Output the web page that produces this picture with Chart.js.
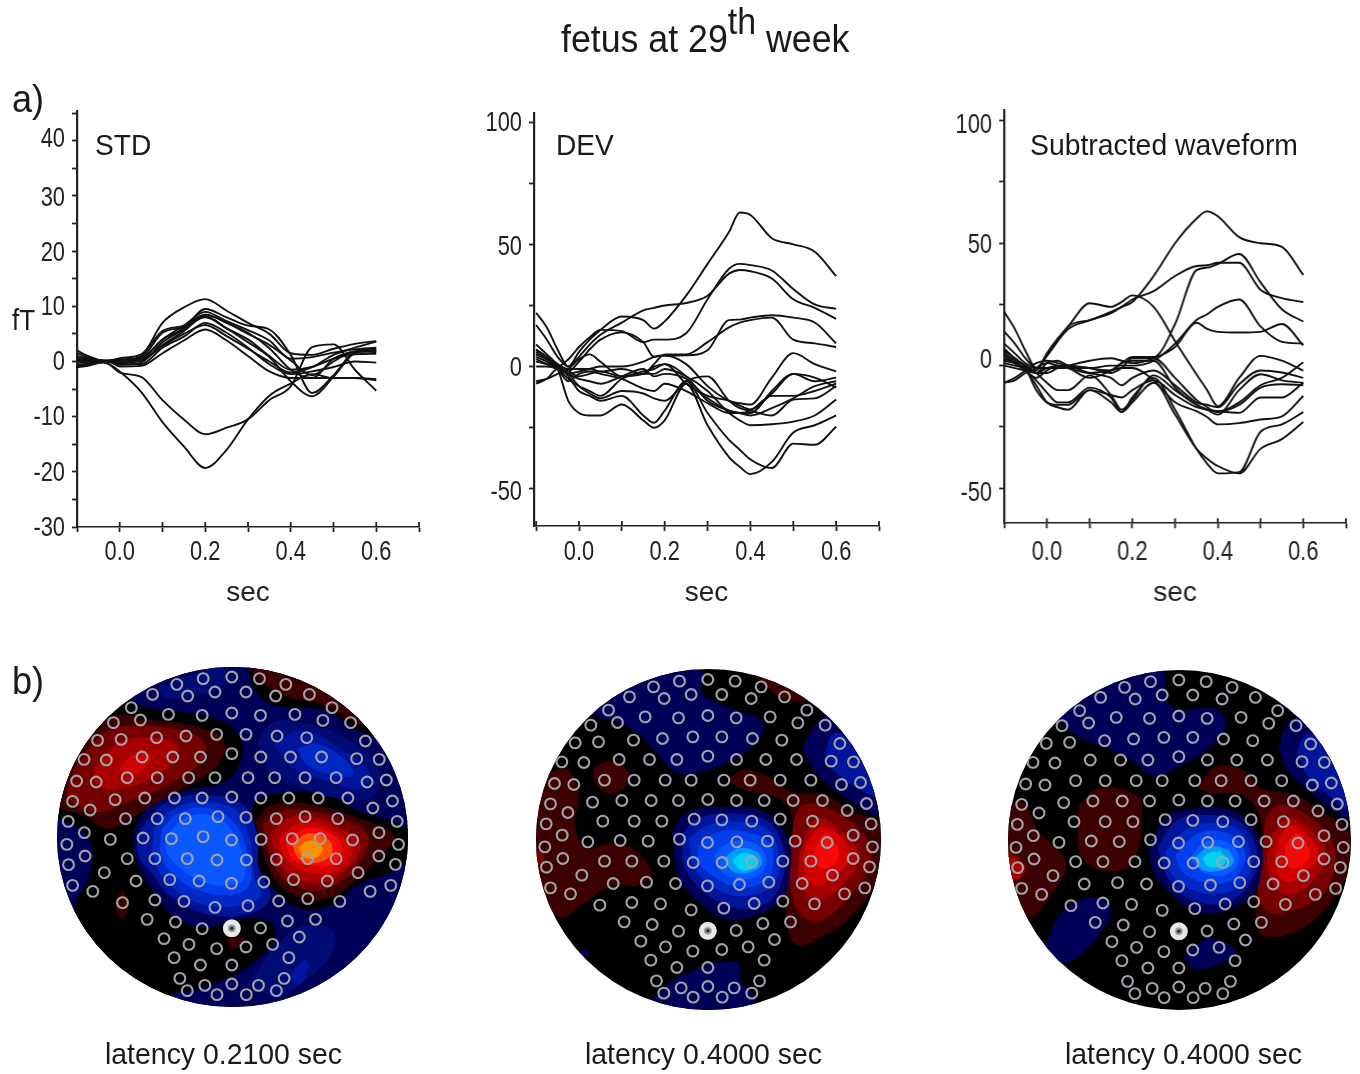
<!DOCTYPE html>
<html><head><meta charset="utf-8">
<script src="https://cdn.jsdelivr.net/npm/chart.js@4/dist/chart.umd.min.js"></script>
<style>
html,body{margin:0;padding:0;background:#fff;width:1360px;height:1074px;overflow:hidden}
canvas{position:absolute;filter:blur(.45px)}
.t{position:absolute;font-family:"Liberation Sans",Arial,sans-serif;color:#1a1a1a;white-space:nowrap;line-height:1;filter:blur(.3px);transform-origin:0 0}
sup{font-size:.95em;line-height:0;vertical-align:.5em}
</style></head><body>
<script>
// ---------- waveform data ----------
const stdTimes=[-0.1,-0.075,-0.05,-0.025,0,0.05,0.1,0.15,0.2,0.25,0.3,0.35,0.4,0.45,0.5,0.55,0.6];
const stdSeries=[
[0,-0.3,0.3,0.2,0.2,1,7,9.8,11.3,9.2,7,5,1.5,1.2,2.3,3.2,3.7],
[0.5,0.3,0,-0.5,-1.8,-5.5,-11,-15.4,-19.3,-16,-10.5,-6.2,-4,-2.3,-3,-3,-3.4],
[2,1,0.3,-0.5,-2,-2.8,-7,-10.5,-13.2,-12,-10.5,-7,-4.5,2.6,3.1,-1.5,-5.3],
[-1,-0.8,-0.3,0,0.1,0.4,4,6,9.5,8,6.5,5.8,1.2,-5.7,-2.5,1.8,2.3],
[-0.5,-0.5,-0.2,-0.1,-0.9,-0.8,1.5,3.8,5.8,3.8,1,-1.8,-3,-3,-3,-3,-3.2],
[1,0.5,0.2,0,-0.2,0.2,3,5.5,8.2,6,3.5,0.8,-3.6,-6.3,-2.8,1.5,2],
[1.5,0.8,0.2,0.1,0.6,1.3,5.5,6.5,8.5,7,5,3,0.2,-2.5,0,1.8,1.7],
[-0.8,-0.5,0,0.2,0.4,0.8,5.2,6.2,8,6,4,1,-1.5,-1,0.5,1.3,1.4],
[0.5,0.2,0,0,-0.4,-0.5,2.5,4.5,7,5.2,2.5,-0.5,-2.3,-1.8,-1,0,-0.2],
[-0.9,-0.7,-0.1,0.1,0.3,0.6,4,6.5,9,7.3,5.7,3.8,0.5,0.8,1.6,2.2,2.5],
[0.2,0,-0.1,0,-0.6,-0.2,3.5,5.8,8.5,7,5.2,2.4,-1.5,-3,0.5,1.8,2],
[1,0.4,0,-0.1,-0.2,0.1,2.8,5,6.6,4.6,2.3,0,-2,-1,1.2,2.5,3.6]
];
const lateTimes=[-0.1,-0.075,-0.05,-0.025,0,0.025,0.05,0.1,0.15,0.175,0.2,0.25,0.3,0.35,0.375,0.4,0.45,0.5,0.55,0.6];
const devSeries=[
[22,16,7,0,6,11,15,20.5,19,15.5,18.5,29,42,55,63,62,52.5,50,47,37],
[17,11,4,0,4,9,13,18,23,24,25,26,29,38,39.5,39,36,27.5,24,19.5],
[7,3,0,3,8,12,15,14.5,10,11,11,13.6,27.5,40,42,41.5,39.3,31.7,25.4,23.6],
[5,3,0,-2,2,7,11,14,10,4,4.5,4.6,6.7,19,19.2,20,21,20,18,9.5],
[9,5,1,-1,-1,-1,-2,-1,-3,1,5,5,10,16,18,19,20,11,9.5,8],
[0,0,-1,-3,-2,-1,0,0,2,4,4.5,1,-8,-14,-15,-15.5,-4.5,5.5,1,-2],
[7,4,0,-3,-5,-6,-7,-4,-1,-4,-3,-5,-13,-18,-19,-19,-10,-3,-4.5,-8.5],
[-6,-5,-3,-1,3,5,2,-4,-3,0,1,-7,-12,-14,-16,-17.5,-11,-3,-6,-4.5],
[2,1,0,-3,-8,-11,-13,-10,-11,-13,-14,-6,-4,-14,-17,-18,-20,-13.5,-13,-8],
[-7,-5,-1,-2,-4,-3,-2,-4,-3,-3,-1,-4,-10,-19,-22,-24,-23.6,-22.5,-20,-13.5],
[3,1,-1,-5,-8,-10,-12,-5,-2,-1,1,-4,-14,-18,-19,-20,-17,-13,-8,-6],
[5,3,1,-4,-10,-12,-14,-12,-20,-23,-18,-6,-19,-30,-34,-38,-41.5,-31.5,-32,-24.6],
[6,3,-1,-14,-19,-20,-20,-15.5,-22,-25,-22,-7,-24,-37,-41,-44,-39,-27,-24,-20],
[4,2,-1,-6,-3,-2,-3,-5,-9,-10,-7,-10,-15,-19,-19,-18,-12,-12,-10,-7]
];
const subSeries=[
[22,15,6,-1,4,10,15,18.5,22,24,26,36.6,50,60,63,61,52.5,50,48.5,37],
[14,9,3,-1,4,10,16,18.6,21.4,24,27,30.4,36.6,40.7,41,42,42,31,27.6,26],
[7,3,0,-2,5,11,16,25.5,24,26,28.7,24,10,-3.5,-10,-16.6,-5,4,2,-2],
[5,2,0,-3,-1,0,0,-1,-2,1,3.5,3.5,17,39,40,41.5,45.6,34,23,18],
[9,5,1,-1,-1,-1,-1,-1,0,0,0,2,9,18.6,21,24,27,16,9.7,9],
[0,-1,-2,-3,-3,-1,0,2,3,2,1,3,7.6,17.5,15,13.8,13.5,13.8,17,8.3],
[2,1,-1,-3,1,2,0,-1,-3,-1,3,3,-5,-14,-17,-19,-15,-8,-5,1.4],
[6,3,-1,-10,-15,-16,-16,-10,-15,-19,-13,-5,-18,-34,-40,-44,-43.5,-27,-24,-19],
[3,1,-2,-6,-11,-15,-15,-9,-13,-19,-15,-7,-20,-34,-38,-41,-44,-34,-30,-23],
[-7,-6,-3,-1,1,0,-1,-3,-2,-1,-1,-6,-15,-18.6,-21,-24,-23.5,-22,-20.7,-12.4],
[4,1,-2,-8,-15,-17,-18,-10,-12,-13,-10,-6,-12,-17,-18,-18.6,-19.3,-13,-13,-7],
[-7,-5,-2,1,2,1,0,-3,-5,-8,-5,-2,-8,-15,-16,-17,-7.6,-2,-2.8,-5],
[1,0,-1,-3,-7,-10,-10,-4,-12,-18,-14,-4,-10,-16,-18,-20,-10,-3.5,-6,-7],
[5,2,-2,-5,-2,0,-1,-5,-2,1,2,2,-9,-16,-18,-18.6,-16,-9,-7.6,-8]
];
const xTickVals=[-0.1,0,0.1,0.2,0.3,0.4,0.5,0.6,0.7];
const xTickLabels=["","0.0","","0.2","","0.4","","0.6",""];
const stdYTicks=[-30,-25,-20,-15,-10,-5,0,5,10,15,20,25,30,35,40,45];
const stdYLabels=[-30,-20,-10,0,10,20,30,40];
const devYTicks=[-50,-25,0,25,50,75,100];
const devYLabels=[-50,0,50,100];

// ---------- sensor layout (shared by the three maps) ----------
const sensorX=[463,548,630,708,385,313,417,498,590,678,778,250,277,360,460,548,633,735,845,818,900,197,150,220,325,412,503,590,682,770,944,110,176,282,373,455,548,634,722,814,918,985,88,146,238,327,420,498,596,675,765,857,949,1006,76,128,202,290,378,460,548,634,717,804,892,966,1024,63,111,233,327,410,507,590,680,765,862,984,1038,59,188,285,369,463,547,635,727,810,906,1042,113,238,320,416,504,591,680,773,857,984,1033,64,170,264,364,451,547,643,731,831,922,1019,76,136,958,224,320,406,498,596,687,773,868,297,381,460,633,713,796,347,421,503,590,669,748,377,455,548,717,394,468,548,627,703,416,504,591,680];
const sensorY=[78,73,78,95,95,125,130,118,118,130,125,165,202,185,188,181,188,185,165,203,210,210,263,260,255,250,245,245,250,255,265,320,322,313,313,313,303,313,313,313,318,320,385,388,375,375,375,375,375,375,375,375,388,382,446,472,441,436,436,436,433,436,436,436,436,466,445,506,540,498,498,498,492,494,498,492,498,540,506,575,560,556,558,552,562,560,558,558,562,575,610,618,618,618,622,622,620,618,618,610,635,636,660,685,681,685,692,688,681,685,660,698,698,716,716,750,742,746,764,759,745,738,746,800,808,828,826,805,800,858,875,888,883,875,853,915,937,937,915,977,998,994,998,977,1014,1026,1026,1014];
const refSensorX=[548], refSensorY=[827];

// ---------- field contours: [level, x,y, x,y, ...] ----------
const mapAField=[
[-1,-100,-100,1300,-100,1300,1200,-100,1200],
[0,250,110,300,150,420,170,540,195,600,250,600,320,550,380,420,410,320,460,280,540,290,620,340,710,410,790,500,815,600,790,690,800,700,860,640,920,560,970,400,1015,300,1015,150,900,100,770,150,650,150,560,100,510,30,470,30,300,100,200],
[0,640,440,700,415,850,415,960,470,1100,520,1110,600,1050,650,950,690,870,750,780,760,700,700,650,620,630,520],
[0,620,30,640,100,700,150,850,165,960,230,1020,240,900,100,750,30],
[1,60,400,200,190,330,195,470,215,545,250,545,310,480,370,350,440,270,490,200,520,130,480,50,450],
[2,100,340,210,225,400,220,490,260,480,320,380,390,260,440,170,470,85,425],
[3,160,340,250,255,400,260,410,300,340,365,230,400,170,385],
[4,235,340,280,300,330,300,320,330,270,360],
[1,640,35,700,50,850,110,970,210,940,200,850,150,720,115,640,60],
[1,245,700,265,745,245,790,225,745],
[1,555,850,610,850,575,880],
[-2,300,520,380,440,500,420,610,450,650,540,655,640,690,720,640,770,520,780,400,730,330,650,290,590],
[-3,340,520,400,460,500,440,590,470,630,560,640,660,660,720,600,750,500,750,400,700,340,610],
[-4,365,520,420,470,510,460,580,500,620,590,630,680,590,715,490,710,400,660,360,590],
[-5,380,540,430,490,510,480,570,520,610,610,610,670,570,690,490,680,410,630,375,580],
[-1.5,650,260,700,200,800,205,920,250,1010,330,1000,420,900,430,780,395,680,340],
[-2,700,270,780,225,900,280,985,350,960,400,870,380,760,340],
[-3,770,280,830,265,920,320,935,360,880,360,800,330],
[-1.5,350,100,480,50,550,40,545,90,470,120,380,130],
[-1.5,620,990,700,880,780,815,870,820,880,880,800,970,700,1020],
[-2,740,970,790,915,805,930,780,985],
[1,645,500,690,450,800,445,960,490,1060,545,1010,610,950,670,860,730,760,720,690,650],
[2,665,510,710,470,800,465,950,510,985,560,940,640,860,700,770,695,705,640],
[3,690,540,740,490,820,485,920,530,960,570,920,640,850,680,770,670,715,620],
[4,715,550,770,505,840,510,920,560,930,600,880,650,800,650,735,610],
[5,735,565,790,520,860,530,905,575,880,625,810,630,755,610],
[6,755,570,800,535,860,550,875,590,840,620,780,615],
[7,775,575,810,555,845,575,830,605,790,605]
];
const mapBField=[
[-1,190,160,300,90,430,50,530,50,530,110,590,150,700,190,715,230,660,290,560,340,460,355,400,300,350,245,280,200,230,190],
[1,680,55,780,90,840,135,770,130,720,90],
[-1,830,280,880,200,930,180,1000,290,1065,420,1060,480,980,440,880,360],
[-2,900,300,920,240,960,240,1020,330,1050,420,1000,400,930,350],
[-1,380,1030,470,960,630,920,650,980,690,1040,600,1075,450,1065],
[-1,160,890,190,885,185,905],
[1,70,350,130,345,160,420,150,520,190,580,250,565,320,580,380,650,340,690,260,690,170,750,100,785,50,690,25,560,30,450],
[1,205,340,250,318,310,350,300,395,250,415,210,380],
[2,30,580,55,600,50,630,30,620],
[1,610,375,650,345,720,360,800,410,900,420,980,470,1070,510,1070,640,1000,760,900,840,820,870,790,830,780,740,800,600,800,480,760,430,650,400],
[2,805,500,830,450,900,455,1000,520,1040,600,1000,690,900,790,840,790,800,720,795,600],
[3,840,540,880,490,950,530,1000,600,960,680,890,730,830,700,820,620],
[4,845,560,890,515,945,545,975,600,930,660,870,690,835,630],
[5,870,580,900,535,935,570,940,610,900,640,870,620],
[-1,440,530,490,470,600,455,720,470,790,560,795,650,770,730,680,785,600,790,520,740,460,660],
[-2,470,540,520,490,620,475,730,500,775,580,775,660,730,740,640,760,550,720,480,640],
[-3,490,550,550,510,640,500,730,525,760,600,750,680,680,720,590,710,510,640],
[-4,520,570,580,530,660,530,730,560,745,620,720,680,640,695,560,660,520,620],
[-5,565,600,620,560,690,565,725,610,700,660,630,670,580,640],
[-6,595,610,640,580,695,590,710,625,680,650,625,650],
[-7,620,615,650,595,690,605,690,635,650,645]
];
const mapCField=[
[-1,190,190,300,100,430,50,505,50,510,120,540,165,650,160,690,200,660,260,560,330,470,360,400,310,340,280,240,240],
[-1,850,280,880,200,930,190,1010,290,1065,440,1060,490,980,440,880,350],
[-2,905,290,930,240,970,250,1030,350,1055,460,1000,420,940,370],
[-1,150,870,200,770,290,725,345,760,310,840,230,915,170,920],
[-1,565,905,600,870,650,850,720,890,650,935,590,940],
[1,250,450,310,400,420,420,440,480,410,620,340,650,260,610,245,530],
[1,40,450,80,440,130,530,210,620,180,700,100,785,50,690,30,560],
[2,35,580,80,620,90,650,50,680,35,630],
[3,35,600,80,630,70,670,35,660],
[1,605,400,660,335,740,345,800,400,900,420,980,470,1060,530,1060,640,1000,750,900,830,800,840,780,760,800,600,790,480,740,420,650,415],
[2,810,490,850,450,920,470,1000,540,1020,620,980,720,880,770,820,770,790,720,800,600],
[3,830,540,880,490,950,530,990,600,950,680,880,720,830,680,815,620],
[4,850,550,890,510,945,550,970,600,930,650,870,680,840,630],
[5,870,570,905,535,935,570,940,610,900,640,870,620],
[-1,460,570,520,480,600,460,720,470,790,550,800,640,770,720,680,770,590,765,510,700,470,640],
[-2,485,580,540,500,620,480,730,500,780,570,780,650,720,730,620,745,530,690],
[-3,510,590,570,525,640,505,730,525,765,590,755,670,680,715,590,705,530,660],
[-4,540,600,600,540,680,530,740,570,745,630,700,680,620,680,560,650],
[-5,580,610,630,560,690,560,730,600,710,650,640,660],
[-6,595,610,640,575,695,585,715,620,680,645,620,645],
[-7,620,610,650,590,685,600,685,630,640,635]
];
const levelColors={"-7":"#00d4f2","-6":"#009cff","-5":"#0a58ff","-4":"#0040f0","-3":"#0028c4","-2":"#00149c","-1.5":"#000c74","-1":"#000058","0":"#000000","1":"#3c0000","2":"#760000","3":"#a80000","4":"#d40000","5":"#f80808","6":"#ff5200","7":"#ff9200"};

// ---------- helpers ----------
const FONT='"Liberation Sans",Arial,sans-serif';
const INK='#222';
const LABEL_Y=552, SEC_BOX=610, NARROW=0.78;
function place(c,l,t,w,h){c.width=w;c.height=h;c.style.left=l+'px';c.style.top=t+'px';c.style.width=w+'px';c.style.height=h+'px';}
// axis labels are condensed like the reference, so they are painted from the scales' ticks
const axisDecor={id:'axisDecor',afterDraw(ch,args,opts){
  const {ctx,chartArea:a,scales:{x,y}}=ch;ctx.save();ctx.strokeStyle=INK;ctx.lineWidth=1.8;ctx.beginPath();
  x.ticks.forEach(t=>{const p=x.getPixelForValue(t.value);ctx.moveTo(p,a.bottom);ctx.lineTo(p,a.bottom-5)});
  ctx.stroke();
  ctx.fillStyle=INK;ctx.font='28px '+FONT;ctx.textBaseline='middle';
  const put=(s,px,py,align)=>{ctx.save();ctx.translate(px,py);ctx.scale(NARROW,1);ctx.textAlign=align;ctx.fillText(s,0,0);ctx.restore();};
  x.ticks.forEach((t,i)=>{if(xTickLabels[i])put(xTickLabels[i],x.getPixelForValue(t.value),opts.labelY,'center')});
  y.ticks.forEach(t=>{if(opts.yLabels.includes(t.value))put(String(t.value),a.left-12,y.getPixelForValue(t.value)+1+(opts.nudge[t.value]||0),'right')});
  ctx.restore();}};

function waveChart(o){
  const L=60,TOP=20,R=30,H=SEC_BOX-o.bottom;
  const c=document.createElement('canvas');document.body.appendChild(c);
  const canvasTop=o.top-TOP;
  place(c,o.left-L,canvasTop,o.right-o.left+L+R,o.bottom-o.top+TOP+H);
  new Chart(c,{type:'line',plugins:[axisDecor],
    data:{datasets:o.series.map(s=>({data:s.map((v,i)=>({x:o.times[i],y:v})),borderColor:'#111',borderWidth:1.9,pointRadius:0,cubicInterpolationMode:'monotone',clip:false}))},
    options:{responsive:false,animation:false,devicePixelRatio:1,layout:{padding:{top:TOP,right:R,left:0,bottom:0},autoPadding:false},
      plugins:{legend:{display:false},tooltip:{enabled:false},title:{display:false},axisDecor:{labelY:LABEL_Y-canvasTop,yLabels:o.yLabels,nudge:o.nudge}},
      scales:{
        x:{type:'linear',min:o.xMin,max:o.xMax,grid:{drawOnChartArea:false,tickLength:5,tickWidth:1.8,tickColor:INK},border:{color:INK,width:1.6},
           afterBuildTicks(s){s.ticks=xTickVals.map(v=>({value:v}))},afterFit(s){s.height=H},
           ticks:{display:false},
           title:{display:true,text:'sec',color:INK,font:{family:FONT,size:28},padding:{top:0,bottom:0}}},
        y:{type:'linear',min:o.yMin,max:o.yMax,grid:{drawOnChartArea:false,tickLength:5,tickWidth:1.8,tickColor:INK},border:{color:INK,width:2.2},
           afterBuildTicks(s){s.ticks=o.yTicks.map(v=>({value:v}))},afterFit(s){s.width=L},
           ticks:{display:false}}
      }}});
}
waveChart({times:stdTimes,series:stdSeries,left:76.5,right:419,top:111,bottom:527,xMin:-0.1,xMax:0.7,yMin:-30,yMax:45.4,yTicks:stdYTicks,yLabels:stdYLabels,nudge:{40:-3,30:1,20:1}});
waveChart({times:lateTimes,series:devSeries,left:533.5,right:878.5,top:113,bottom:526,xMin:-0.105,xMax:0.7,yMin:-65.2,yMax:103.7,yTicks:devYTicks,yLabels:devYLabels,nudge:{100:0,50:2,0:1,"-50":2}});
waveChart({times:lateTimes,series:subSeries,left:1004,right:1345.5,top:109.6,bottom:523.3,xMin:-0.1,xMax:0.7,yMin:-64.4,yMax:104.4,yTicks:devYTicks,yLabels:devYLabels,nudge:{100:4,50:1,0:-6,"-50":4}});

// field plugin: paints each contour dataset's own spline path
const fieldPlugin={id:'fieldPlugin',
  beforeDatasetsDraw(ch){const {ctx,chartArea:a}=ch;ctx.save();ctx.beginPath();
    ctx.ellipse((a.left+a.right)/2,(a.top+a.bottom)/2,(a.right-a.left)/2,(a.bottom-a.top)/2,0,0,Math.PI*2);
    ctx.fillStyle='#000';ctx.fill();ctx.clip();},
  beforeDatasetDraw(ch,args){const ds=ch.data.datasets[args.index];if(ds.fieldLevel===undefined)return;
    const ctx=ch.ctx,el=args.meta.dataset;el.updateControlPoints(ch.chartArea,'x');ctx.save();ctx.beginPath();el.path(ctx);ctx.closePath();ctx.fillStyle=levelColors[ds.fieldLevel];ctx.fill();ctx.restore();},
  afterDatasetsDraw(ch){ch.ctx.restore();}};

function mapChart(o){
  const c=document.createElement('canvas');document.body.appendChild(c);
  const w=Math.round(o.rx*2),h=Math.round(o.ry*2);
  place(c,o.cx-w/2,o.cy-h/2,w,h);
  const sx=v=>o.fx+(v-550)*o.kx, sy=v=>v+o.dy;
  const ref=refSensorX.map((v,i)=>({x:sx(v),y:sy(refSensorY[i])}));
  const datasets=[
    {label:'refCentre',data:ref,pointRadius:1.5,backgroundColor:'#222',borderWidth:0,order:0},
    {label:'refInner',data:ref,pointRadius:3.2,backgroundColor:'#8a8a8a',borderWidth:0,order:1},
    {label:'refSensor',data:ref,pointRadius:6.5,backgroundColor:'#b5b5b5',borderColor:'#e8e8e8',borderWidth:5,order:2},
    {label:'sensors',data:sensorX.map((v,i)=>({x:sx(v),y:sy(sensorY[i])})),pointRadius:5.4,backgroundColor:'rgba(0,0,0,0)',borderColor:'#a2a2aa',borderWidth:2.1,order:3}
  ];
  o.field.forEach((f,i)=>{const pts=[];for(let k=1;k<f.length;k+=2)pts.push({x:f[k],y:f[k+1]});pts.push(pts[0]);
    datasets.push({fieldLevel:f[0],data:pts,showLine:true,tension:0.4,borderWidth:0,borderColor:'rgba(0,0,0,0)',pointRadius:0,capBezierPoints:false,order:1000-i,clip:false});});
  new Chart(c,{type:'scatter',plugins:[fieldPlugin],data:{datasets},
    options:{responsive:false,animation:false,devicePixelRatio:1,layout:{padding:0,autoPadding:false},
      plugins:{legend:{display:false},tooltip:{enabled:false}},
      scales:{x:{type:'linear',display:false,min:o.fx-o.rx*3,max:o.fx+o.rx*3},
              y:{type:'linear',display:false,reverse:true,min:o.fy-o.ry*3,max:o.fy+o.ry*3}}}});
}
mapChart({field:mapAField,cx:232,cy:836.7,rx:175.3,ry:170,fx:576,fy:545,kx:1.011,dy:-8});
mapChart({field:mapBField,cx:708.3,cy:839.3,rx:172.5,ry:170.5,fx:550,fy:553,kx:1,dy:0});
mapChart({field:mapCField,cx:1179,cy:840,rx:171.7,ry:170,fx:552,fy:555,kx:1,dy:2});

// ---------- text ----------
const texts=[
 ['fetus at 29<sup>th</sup> week',561,20,38,.94],
 ['a)',12,80,38,.95],['b)',12,662,38,.95],
 ['STD',95,131,29,.97],['DEV',556,131,29,.97],['Subtracted waveform',1030,131,29,.978],
 ['fT',12,306,29,.9],
 ['latency 0.2100 sec',105,1040,29,.98],['latency 0.4000 sec',585,1040,29,.98],['latency 0.4000 sec',1065,1040,29,.98]
];
texts.forEach(([s,x,y,f,k])=>{const d=document.createElement('div');d.className='t';d.innerHTML=s;d.style.left=x+'px';d.style.top=y+'px';d.style.fontSize=f+'px';d.style.transform='scaleX('+k+')';document.body.appendChild(d);});
</script>
</body></html>
